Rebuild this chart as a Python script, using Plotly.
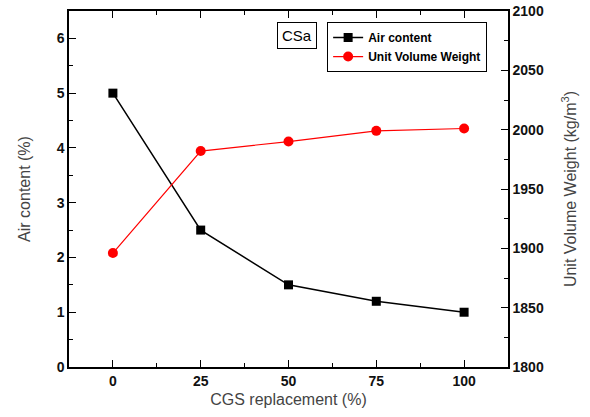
import plotly.graph_objects as go

cgs_replacement = [0, 25, 50, 75, 100]
air_content = [5.0, 2.5, 1.5, 1.2, 1.0]
unit_volume_weight = [1896, 1982, 1990, 1999, 2001]

x_ticks = [0, 25, 50, 75, 100]
y_ticks = [0, 1, 2, 3, 4, 5, 6]
y2_ticks = [1800, 1850, 1900, 1950, 2000, 2050, 2100]

tick_font = dict(family="Liberation Sans, Arial, sans-serif", size=14, color="#111", weight="bold")
title_font = dict(family="Liberation Sans, Arial, sans-serif", size=16, color="#444")

fig = go.Figure()
fig.add_trace(go.Scatter(
    x=cgs_replacement, y=air_content, name="Air content",
    mode="lines+markers",
    line=dict(color="black", width=1.5),
    marker=dict(symbol="square", size=9, color="black"),
))
fig.add_trace(go.Scatter(
    x=cgs_replacement, y=unit_volume_weight, name="Unit Volume Weight",
    mode="lines+markers", yaxis="y2",
    line=dict(color="red", width=1.2),
    marker=dict(symbol="circle", size=10, color="red"),
))

fig.update_layout(
    width=590, height=417,
    margin=dict(l=69, r=82, t=11, b=50, autoexpand=False),
    paper_bgcolor="white", plot_bgcolor="white",
    showlegend=True,
    legend=dict(
        x=0.588, y=0.969, xanchor="left", yanchor="top",
        bordercolor="black", borderwidth=1, bgcolor="white",
        font=dict(family="Liberation Sans, Arial, sans-serif", size=12, color="black", weight="bold"),
        itemwidth=30, tracegroupgap=0,
    ),
    xaxis=dict(
        range=[-12.5, 112.5], tickvals=x_ticks, ticktext=[str(v) for v in x_ticks],
        ticks="inside", ticklen=7, tickwidth=1, tickcolor="black",
        showline=True, linecolor="black", linewidth=1.5, mirror="ticks",
        showgrid=False, zeroline=False, tickfont=tick_font, automargin=False,
        minor=dict(ticks="inside", ticklen=4, tickcolor="black", dtick=12.5),
        title=dict(text="CGS replacement (%)", font=title_font, standoff=6),
    ),
    yaxis=dict(
        range=[0, 6.5], tickvals=y_ticks,
        ticks="inside", ticklen=7, tickwidth=1, tickcolor="black",
        showline=True, linecolor="black", linewidth=1.5,
        showgrid=False, zeroline=False, tickfont=tick_font, automargin=False,
        minor=dict(ticks="inside", ticklen=4, tickcolor="black", dtick=0.5),
        title=dict(text="Air content (%)", font=title_font, standoff=22),
    ),
    yaxis2=dict(
        range=[1800, 2100], tickvals=y2_ticks, overlaying="y", side="right",
        ticks="inside", ticklen=7, tickwidth=1, tickcolor="black",
        showline=True, linecolor="black", linewidth=1.5,
        showgrid=False, zeroline=False, tickfont=tick_font, automargin=False,
        minor=dict(ticks="inside", ticklen=4, tickcolor="black", dtick=25),
        title=dict(text="Unit Volume Weight (kg/m<sup>3</sup>)", font=title_font, standoff=22),
    ),
)

fig.add_annotation(
    text="CSa", xref="paper", yref="paper", x=0.52, y=0.969,
    xanchor="center", yanchor="top", showarrow=False,
    font=dict(family="Liberation Sans, Arial, sans-serif", size=15, color="black"),
    bordercolor="black", borderwidth=1, borderpad=4, bgcolor="white",
)

fig.write_html("out.html")
